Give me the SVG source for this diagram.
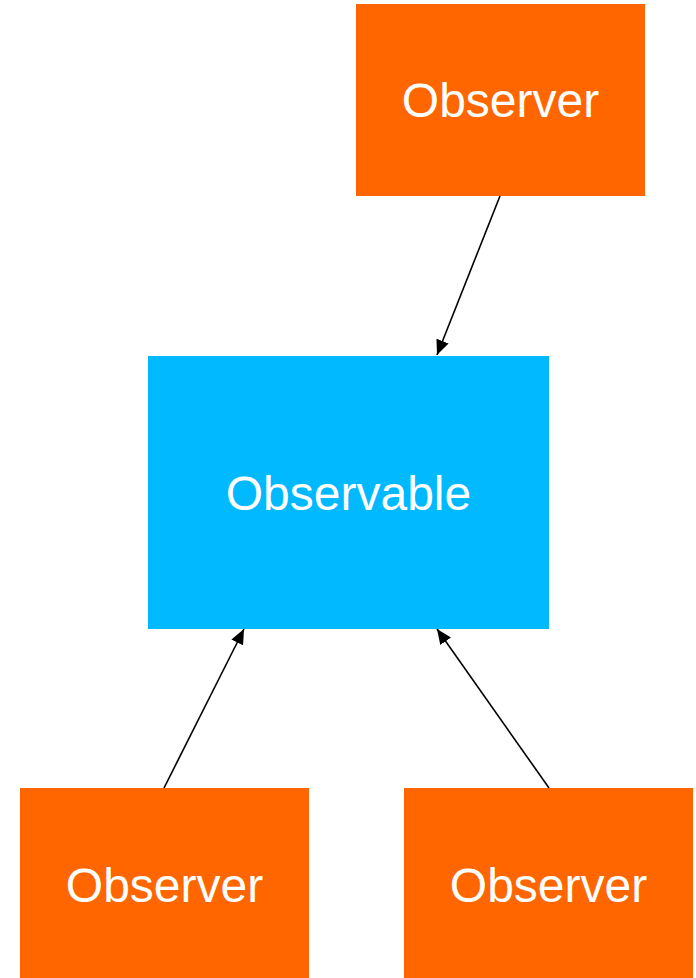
<svg xmlns="http://www.w3.org/2000/svg" width="696" height="978" viewBox="0 0 696 978">
<style>
.obs{fill:#ff6600}
.able{fill:#00b9ff}
.lbl{font-family:"Liberation Sans",Arial,sans-serif;font-size:48px;fill:#ffffff;text-anchor:middle}
.edge{stroke:#000;stroke-width:1.6;fill:none}
</style>
<defs>
<marker id="ah" viewBox="0 0 10 10" refX="10" refY="5" markerWidth="15" markerHeight="13" markerUnits="userSpaceOnUse" orient="auto" preserveAspectRatio="none">
<path d="M0,0 L10,5 L0,10 z" fill="#000"/>
</marker>
</defs>
<rect width="696" height="978" fill="#fff"/>
<g id="connectors">
<line class="edge" x1="500" y1="196" x2="437" y2="355" marker-end="url(#ah)"/>
<line class="edge" x1="164" y1="788" x2="244" y2="629" marker-end="url(#ah)"/>
<line class="edge" x1="549" y1="788" x2="437" y2="629" marker-end="url(#ah)"/>
</g>
<g id="observer-top">
<rect class="obs" x="356" y="4" width="289" height="192"/>
<text class="lbl" x="500.5" y="117">Observer</text>
</g>
<g id="observable">
<rect class="able" x="148" y="356" width="401" height="273"/>
<text class="lbl" x="348.5" y="510">Observable</text>
</g>
<g id="observer-left">
<rect class="obs" x="20" y="788" width="289" height="190"/>
<text class="lbl" x="164.5" y="902">Observer</text>
</g>
<g id="observer-right">
<rect class="obs" x="404" y="788" width="289" height="190"/>
<text class="lbl" x="548.5" y="902">Observer</text>
</g>
</svg>
